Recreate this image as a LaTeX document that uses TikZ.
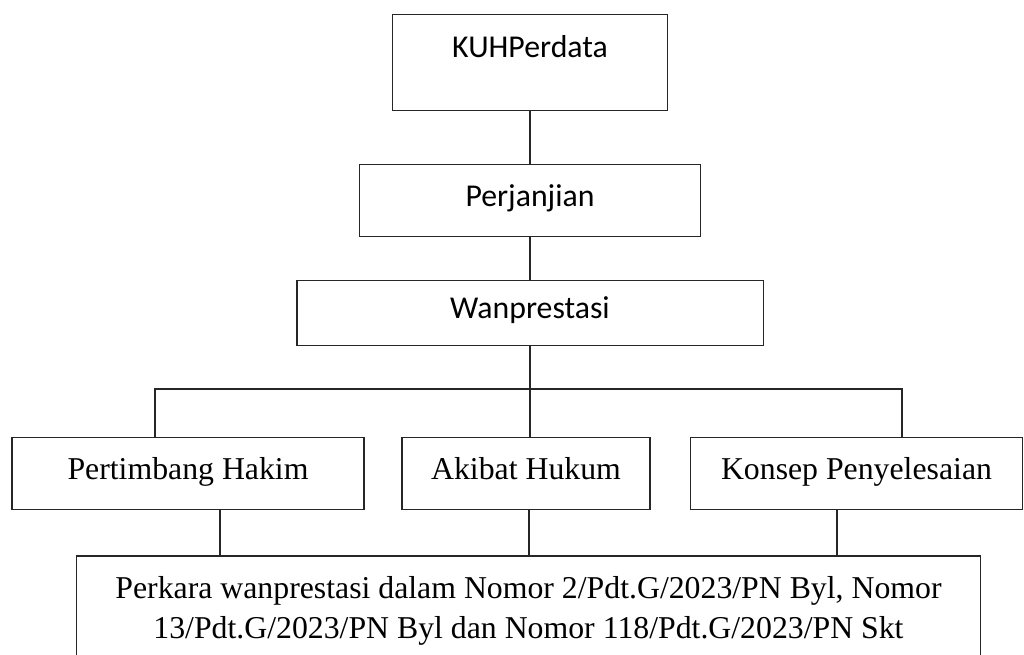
\documentclass[tikz,border=0pt]{standalone}
\usepackage{fontspec}
\setmainfont{Liberation Serif}
\newfontfamily\calibri{Carlito}
\usetikzlibrary{positioning}

\begin{document}
\begin{tikzpicture}[
  x=0.025cm, y=-0.025cm,
  font=\fontsize{22.6}{28.4}\selectfont,
  kotak/.style={draw=black!85, line width=0.8pt, align=center, inner sep=2pt,
                text height=15.5pt, text depth=7pt},
  kotaks/.style={kotak, font=\fontsize{22.6}{28.4}\selectfont\calibri},
  kotakpanjang/.style={draw=black!85, line width=0.8pt, align=center, inner sep=2pt},
  garis/.style={draw=black!85, line width=0.8pt}
]
\useasboundingbox (0,0) rectangle (1024,655);
\clip (0,0) rectangle (1024,655);

\node[kotaks, minimum width=6.88cm, minimum height=2.38cm, text depth=0.78cm]
  (kuh) at (530,62.5) {KUHPerdata};
\node[kotaks, minimum width=8.53cm, minimum height=1.8cm, below=1.325cm of kuh]
  (janji) {Perjanjian};
\node[kotaks, minimum width=11.65cm, minimum height=1.63cm, below=1.075cm of janji]
  (wan) {Wanprestasi};

\node[kotak, minimum width=8.8cm, minimum height=1.78cm] (hakim) at (188,473.5) {Pertimbang Hakim};
\node[kotak, minimum width=6.2cm, minimum height=1.78cm] (akibat) at (526,473.5) {Akibat Hukum};
\node[kotak, minimum width=8.28cm, minimum height=1.78cm] (konsep) at (856.5,473.5) {Konsep Penyelesaian};

\node[kotakpanjang, minimum width=22.58cm, minimum height=2.75cm] (perkara) at (528.5,611)
  {Perkara wanprestasi dalam Nomor 2/Pdt.G/2023/PN Byl, Nomor\\
   13/Pdt.G/2023/PN Byl dan Nomor 118/Pdt.G/2023/PN Skt};

\coordinate (kiri) at (155,389);
\coordinate (kanan) at (902,389);

\draw[garis] (kuh.south) -- (janji.north);
\draw[garis] (janji.south) -- (wan.north);
\draw[garis] (wan.south) -- (wan.south |- akibat.north);
\draw[garis] (hakim.north -| kiri) -- (kiri) -- (kanan) -- (konsep.north -| kanan);

\foreach \n/\x in {hakim/220, akibat/529, konsep/837}
  \draw[garis] (\n.south -| \x,0) -- (perkara.north -| \x,0);
\end{tikzpicture}
\end{document}
